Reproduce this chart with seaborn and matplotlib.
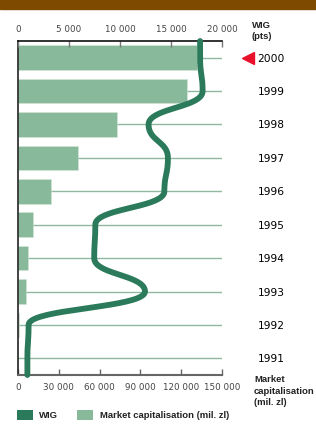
import numpy as np
import pandas as pd
import matplotlib
matplotlib.use("Agg")
import matplotlib.pyplot as plt
import seaborn as sns
from matplotlib.patches import Patch
import matplotlib.transforms as mtransforms

# ---- data ----
years = ["2000", "1999", "1998", "1997", "1996", "1995", "1994", "1993", "1992", "1991"]
market_cap = [131400, 124500, 73000, 44100, 24300, 11300, 7600, 5900, 1100, 160]
wig = [17850, 18100, 12800, 14700, 14350, 7580, 7470, 12450, 1040, 920]
mcap_ticks = [0, 30000, 60000, 90000, 120000, 150000]
wig_ticks = [0, 5000, 10000, 15000, 20000]

BAR = "#89b99b"
LINE = "#2b7a5b"
GRID = "#8fb8a0"
BROWN = "#7d4a00"

sns.set_style("white")
plt.rcParams["font.family"] = ["DejaVu Sans"]

W, H = 316, 430
fig = plt.figure(figsize=(W / 100, H / 100), dpi=100)
fig.patch.set_facecolor("white")

# brown band at top
fig.add_artist(plt.Rectangle((0, 1 - 9 / H), 1, 9 / H, transform=fig.transFigure,
                             color=BROWN, zorder=0))

left, right, top, bottom = 18, 222, 41, 375
ax = fig.add_axes([left / W, 1 - bottom / H, (right - left) / W, (bottom - top) / H])

df = pd.DataFrame({"year": years, "mcap": market_cap, "wig": wig})
sns.barplot(data=df, x="mcap", y="year", order=years, orient="h", color=BAR,
            saturation=1, width=0.74, ax=ax, zorder=2, edgecolor="#d5e6da", linewidth=0.4)
ax.set_xlim(0, 150000)
ax.set_ylim(len(years) - 0.5, -0.5)
ax.set_xlabel("")
ax.set_ylabel("")
ax.set_xticks(mcap_ticks)
ax.set_xticklabels([f"{v:,}".replace(",", " ") for v in mcap_ticks], fontsize=6.3, color="#444")
ax.tick_params(axis="x", direction="in", length=4, width=1, color="#666", pad=6)
ax.grid(axis="y", color=GRID, linewidth=1, zorder=1)
ax.grid(axis="x", visible=False)
ax.set_axisbelow(True)
ax.yaxis.tick_right()
ax.tick_params(axis="y", length=0, pad=25.5, labelsize=7.7, labelcolor="black")
ax.spines["right"].set_visible(False)
ax.spines["left"].set_color("#222")
ax.spines["left"].set_linewidth(1.2)
ax.spines["bottom"].set_color("#666")
ax.spines["bottom"].set_linewidth(1.5)
ax.spines["top"].set_visible(False)

# WIG on the top axis
ax2 = ax.twiny()
ax2.set_xlim(0, 20000)
ax2.set_ylim(len(years) - 0.5, -0.5)
ax2.set_xticks(wig_ticks)
ax2.set_xticklabels([f"{v:,}".replace(",", " ") for v in wig_ticks], fontsize=6.3, color="#444")
ax2.tick_params(axis="x", direction="in", length=4, width=1, color="#777", pad=5)
for s in ["right", "left", "bottom"]:
    ax2.spines[s].set_visible(False)
ax2.spines["top"].set_color("#111")
ax2.spines["top"].set_linewidth(1.2)

# bump curve (vertical tangents at each point) through the WIG values
ys = np.arange(len(years), dtype=float)
xs = np.array(wig, dtype=float)
px = [xs[0]]
py = [-0.5]
t = np.linspace(0, 1, 40)
for i in range(len(xs) - 1):
    x0, x1, y0, y1 = xs[i], xs[i + 1], ys[i], ys[i + 1]
    ym = (y0 + y1) / 2
    bx = (1 - t) ** 3 * x0 + 3 * (1 - t) ** 2 * t * x0 + 3 * (1 - t) * t ** 2 * x1 + t ** 3 * x1
    by = (1 - t) ** 3 * y0 + 3 * (1 - t) ** 2 * t * ym + 3 * (1 - t) * t ** 2 * ym + t ** 3 * y1
    px.extend(bx)
    py.extend(by)
px.append(xs[-1])
py.append(len(years) - 0.5)
curve = pd.DataFrame({"x": px, "y": py})
sns.lineplot(data=curve, x="x", y="y", sort=False, estimator=None, color=LINE,
             linewidth=4.2, ax=ax2, zorder=5, solid_capstyle="round", clip_on=False)
ax2.set_xlabel("")
ax2.set_ylabel("")

# red marker for 2000
trans = mtransforms.blended_transform_factory(fig.transFigure, ax.transData)
ax.plot([248 / W], [0], marker="<", markersize=8, color="#e8102a",
        transform=trans, clip_on=False, zorder=6)

lab = ["Liberation Sans", "DejaVu Sans"]
fig.text(252 / W, 1 - 31 / H, "WIG\n(pts)", fontsize=6.8, fontweight="bold", family=lab,
         va="center", ha="left", linespacing=1.35, color="#222")
fig.text(254 / W, 1 - 391 / H, "Market\ncapitalisation\n(mil. zl)", fontsize=6.8,
         fontweight="bold", family=lab, va="center", ha="left", linespacing=1.3, color="#222")

handles = [Patch(facecolor=LINE, edgecolor="none"), Patch(facecolor=BAR, edgecolor="none")]
leg = fig.legend(handles, ["WIG", "Market capitalisation (mil. zl)"], loc="center left",
                 bbox_to_anchor=(13 / W, 1 - 415 / H), ncol=2, frameon=False,
                 handlelength=1.7, handleheight=1.2, handletextpad=0.7, columnspacing=2.0,
                 prop={"family": lab, "weight": "bold", "size": 6.8}, borderaxespad=0)
for txt in leg.get_texts():
    txt.set_color("#222")

fig.savefig("out.png", dpi=100, facecolor="white")
